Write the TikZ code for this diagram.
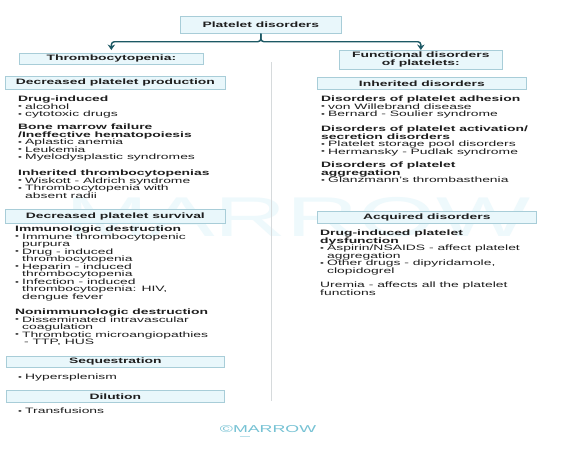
\documentclass[tikz,border=0pt]{standalone}
\usepackage{fontspec}
\setmainfont[FakeStretch=1.78]{Liberation Sans}
\usetikzlibrary{arrows.meta}
\definecolor{boxfill}{RGB}{233,247,251}
\definecolor{boxline}{RGB}{168,205,216}
\definecolor{conn}{RGB}{28,88,100}
\definecolor{txt}{RGB}{30,30,30}
\definecolor{divc}{RGB}{214,218,220}
\definecolor{wmc}{RGB}{238,249,252}
\definecolor{logoc}{RGB}{118,194,212}
\newcommand\bul{\makebox[7pt][l]{\raisebox{0.3pt}{\scalebox{0.8}{•}}}}
\newcommand\ind{\hspace*{7pt}}
\newcommand\txtgrp[1]{\parbox[t]{240pt}{\fontsize{7.8}{7.55}\selectfont\lineskiplimit=-20pt\raggedright #1}}
\begin{document}
\begin{tikzpicture}[x=1pt,y=-1pt,
  hbox/.style={draw=boxline, fill=boxfill, line width=0.7pt, inner sep=0pt, anchor=north west,
    font=\fontsize{7.8}{8}\selectfont\bfseries, text=txt, align=center},
  grp/.style={anchor=base west, inner sep=0pt, text=txt},
  link/.style={draw=conn, line width=1.4pt, rounded corners=3pt, -{Stealth[length=5.5pt,width=7.5pt]}},
]
\useasboundingbox[fill=white] (0,0) rectangle (569,451);
% watermark
\node[font=\fontsize{56}{56}\selectfont, text=wmc, inner sep=0pt] (wm) at (298,217) {MARROW};
% divider
\draw[divc, line width=1pt] (271,62) -- (271,401);
% boxes
\node[hbox, minimum width=161pt, minimum height=17pt] (top) at (180,16) {Platelet disorders};
\node[hbox, minimum width=184pt, minimum height=11pt] (thr) at (19,53) {Thrombocytopenia:};
\node[hbox, minimum width=163pt, minimum height=19pt] (fun) at (339,50) {Functional disorders\\of platelets:};
\node[hbox, minimum width=220pt, minimum height=13pt] (prod) at (5,76) {Decreased platelet production};
\node[hbox, minimum width=209pt, minimum height=12pt] (inh) at (317,77) {Inherited disorders};
\node[hbox, minimum width=220pt, minimum height=14pt] (surv) at (5,209) {Decreased platelet survival};
\node[hbox, minimum width=219pt, minimum height=12pt] (acq) at (317,211) {Acquired disorders};
\node[hbox, minimum width=218pt, minimum height=11pt] (seq) at (6,356) {Sequestration};
\node[hbox, minimum width=218pt, minimum height=12pt] (dil) at (6,390) {Dilution};
% connectors
\draw[link, shorten >=3pt] (top.south) -- ++(0,8) -| (thr.north);
\draw[link] (top.south) -- ++(0,8) -| (fun.north);
% left texts
\node[grp] (a1) at (18,101.5) {\txtgrp{\textbf{Drug-induced}\\ \bul alcohol\\ \bul cytotoxic drugs}};
\node[grp] (a2) at (18,129.5) {\txtgrp{\textbf{Bone marrow failure}\\ \textbf{/Ineffective hematopoiesis}\\ \bul Aplastic anemia\\ \bul Leukemia\\ \bul Myelodysplastic syndromes}};
\node[grp] (a3) at (18,175.5) {\txtgrp{\textbf{Inherited thrombocytopenias}\\ \bul Wiskott - Aldrich syndrome\\ \bul Thrombocytopenia with\\ \ind absent radii}};
\node[grp] (b1) at (15,231.5) {\txtgrp{\textbf{Immunologic destruction}\\ \bul Immune thrombocytopenic\\ \ind purpura\\ \bul Drug - induced\\ \ind thrombocytopenia\\ \bul Heparin - induced\\ \ind thrombocytopenia\\ \bul Infection - induced\\ \ind thrombocytopenia: HIV,\\ \ind dengue fever}};
\node[grp] (b2) at (15,314.5) {\txtgrp{\textbf{Nonimmunologic destruction}\\ \bul Disseminated intravascular\\ \ind coagulation\\ \bul Thrombotic microangiopathies\\ \ind\hspace*{2pt}- TTP, HUS}};
\node[grp] (c1) at (18,379.5) {\txtgrp{\bul Hypersplenism}};
\node[grp] (d1) at (18,413.5) {\txtgrp{\bul Transfusions}};
% right texts
\node[grp] (r1) at (321,101.5) {\txtgrp{\textbf{Disorders of platelet adhesion}\\ \bul von Willebrand disease\\ \bul Bernard - Soulier syndrome}};
\node[grp] (r2) at (321,131.5) {\txtgrp{\textbf{Disorders of platelet activation/}\\ \textbf{secretion disorders}\\ \bul Platelet storage pool disorders\\ \bul Hermansky - Pudlak syndrome}};
\node[grp] (r3) at (321,167.5) {\txtgrp{\textbf{Disorders of platelet}\\ \textbf{aggregation}\\ \bul Glanzmann's thrombasthenia}};
\node[grp] (r4) at (320,235.5) {\txtgrp{\textbf{Drug-induced platelet}\\ \textbf{dysfunction}\\ \bul Aspirin/NSAIDS - affect platelet\\ \ind aggregation\\ \bul Other drugs - dipyridamole,\\ \ind clopidogrel}};
\node[grp] (r5) at (320,287.5) {\txtgrp{Uremia - affects all the platelet\\ functions}};
% logo
\node[font=\fontsize{10}{10}\selectfont, text=logoc, inner sep=0pt] (logo) at (268,429) {©MARROW};
\draw[logoc!50, line width=0.6pt] ([xshift=20pt,yshift=-4pt]logo.south west) -- ++(10,0);
\end{tikzpicture}
\end{document}
